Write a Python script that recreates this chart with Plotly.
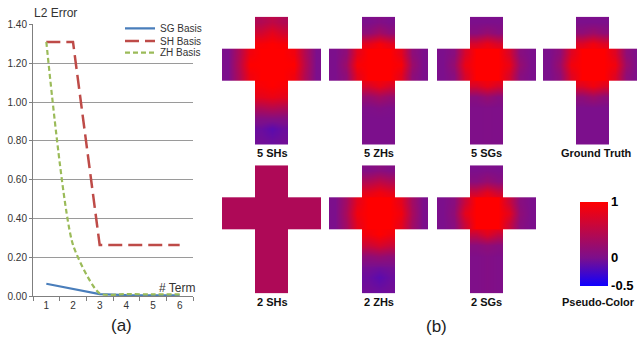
import plotly.graph_objects as go

# ---------------- data: line chart ----------------
terms = [1, 2, 3, 4, 5, 6]
sg_basis = [0.065, 0.038, 0.012, 0.006, 0.005, 0.005]
sh_basis = [1.31, 1.31, 0.265, 0.265, 0.265, 0.265]
zh_basis = [1.31, 0.265, 0.015, 0.012, 0.010, 0.010]
y_ticks = [0.0, 0.2, 0.4, 0.6, 0.8, 1.0, 1.2, 1.4]

# ---------------- data: cross pseudo-color maps (12 rows x 9 cols, None = outside cross) ----------------
_ = None
sh5 = [
    [_, _, _, 0.40, 0.50, 0.40, _, _, _],
    [_, _, _, 0.65, 0.80, 0.65, _, _, _],
    [_, _, _, 0.95, 1.00, 0.95, _, _, _],
    [0.00, 0.40, 0.90, 1.00, 1.00, 1.00, 0.90, 0.40, 0.00],
    [0.00, 0.45, 1.00, 1.00, 1.00, 1.00, 1.00, 0.45, 0.00],
    [0.00, 0.40, 0.90, 1.00, 1.00, 1.00, 0.90, 0.40, 0.00],
    [_, _, _, 0.95, 1.00, 0.95, _, _, _],
    [_, _, _, 0.80, 0.85, 0.80, _, _, _],
    [_, _, _, 0.40, 0.45, 0.40, _, _, _],
    [_, _, _, 0.05, 0.05, 0.05, _, _, _],
    [_, _, _, -0.08, -0.15, -0.08, _, _, _],
    [_, _, _, -0.05, -0.08, -0.05, _, _, _],
]
zh5 = [
    [_, _, _, 0.00, 0.05, 0.00, _, _, _],
    [_, _, _, 0.15, 0.30, 0.15, _, _, _],
    [_, _, _, 0.80, 0.95, 0.80, _, _, _],
    [0.00, 0.15, 0.80, 1.00, 1.00, 1.00, 0.80, 0.15, 0.00],
    [0.00, 0.25, 0.95, 1.00, 1.00, 1.00, 0.95, 0.25, 0.00],
    [0.00, 0.15, 0.80, 1.00, 1.00, 1.00, 0.80, 0.15, 0.00],
    [_, _, _, 0.70, 0.85, 0.70, _, _, _],
    [_, _, _, 0.20, 0.30, 0.20, _, _, _],
    [_, _, _, 0.02, 0.05, 0.02, _, _, _],
    [_, _, _, 0.00, 0.00, 0.00, _, _, _],
    [_, _, _, 0.00, 0.00, 0.00, _, _, _],
    [_, _, _, 0.00, 0.00, 0.00, _, _, _],
]
sg5 = [
    [_, _, _, 0.00, 0.00, 0.00, _, _, _],
    [_, _, _, 0.10, 0.20, 0.10, _, _, _],
    [_, _, _, 0.70, 0.85, 0.70, _, _, _],
    [0.00, 0.10, 0.70, 1.00, 1.00, 1.00, 0.70, 0.10, 0.00],
    [0.00, 0.20, 0.85, 1.00, 1.00, 1.00, 0.85, 0.20, 0.00],
    [0.00, 0.10, 0.70, 1.00, 1.00, 1.00, 0.70, 0.10, 0.00],
    [_, _, _, 0.70, 0.85, 0.70, _, _, _],
    [_, _, _, 0.10, 0.20, 0.10, _, _, _],
    [_, _, _, 0.02, 0.03, 0.02, _, _, _],
    [_, _, _, 0.02, 0.03, 0.02, _, _, _],
    [_, _, _, 0.02, 0.03, 0.02, _, _, _],
    [_, _, _, 0.02, 0.03, 0.02, _, _, _],
]
truth = [
    [_, _, _, 0.00, 0.00, 0.00, _, _, _],
    [_, _, _, 0.15, 0.25, 0.15, _, _, _],
    [_, _, _, 0.75, 0.90, 0.75, _, _, _],
    [0.00, 0.15, 0.75, 1.00, 1.00, 1.00, 0.75, 0.15, 0.00],
    [0.00, 0.25, 0.90, 1.00, 1.00, 1.00, 0.90, 0.25, 0.00],
    [0.00, 0.15, 0.75, 1.00, 1.00, 1.00, 0.75, 0.15, 0.00],
    [_, _, _, 0.75, 0.90, 0.75, _, _, _],
    [_, _, _, 0.15, 0.25, 0.15, _, _, _],
    [_, _, _, 0.00, 0.00, 0.00, _, _, _],
    [_, _, _, 0.00, 0.00, 0.00, _, _, _],
    [_, _, _, 0.00, 0.00, 0.00, _, _, _],
    [_, _, _, 0.00, 0.00, 0.00, _, _, _],
]
sh2 = [
    [_, _, _, 0.38, 0.38, 0.38, _, _, _],
    [_, _, _, 0.38, 0.38, 0.38, _, _, _],
    [_, _, _, 0.38, 0.38, 0.38, _, _, _],
    [0.38, 0.38, 0.38, 0.38, 0.38, 0.38, 0.38, 0.38, 0.38],
    [0.38, 0.38, 0.38, 0.38, 0.38, 0.38, 0.38, 0.38, 0.38],
    [0.38, 0.38, 0.38, 0.38, 0.38, 0.38, 0.38, 0.38, 0.38],
    [_, _, _, 0.38, 0.38, 0.38, _, _, _],
    [_, _, _, 0.38, 0.38, 0.38, _, _, _],
    [_, _, _, 0.38, 0.38, 0.38, _, _, _],
    [_, _, _, 0.38, 0.38, 0.38, _, _, _],
    [_, _, _, 0.38, 0.38, 0.38, _, _, _],
    [_, _, _, 0.38, 0.38, 0.38, _, _, _],
]
zh2 = [
    [_, _, _, 0.05, 0.10, 0.05, _, _, _],
    [_, _, _, 0.40, 0.50, 0.40, _, _, _],
    [_, _, _, 0.80, 0.90, 0.80, _, _, _],
    [0.00, 0.30, 0.80, 1.00, 1.00, 1.00, 0.80, 0.30, 0.00],
    [0.00, 0.35, 0.90, 1.00, 1.00, 1.00, 0.90, 0.35, 0.00],
    [0.00, 0.30, 0.80, 1.00, 1.00, 1.00, 0.80, 0.30, 0.00],
    [_, _, _, 0.90, 1.00, 0.90, _, _, _],
    [_, _, _, 0.60, 0.70, 0.60, _, _, _],
    [_, _, _, 0.15, 0.20, 0.15, _, _, _],
    [_, _, _, -0.03, -0.05, -0.03, _, _, _],
    [_, _, _, -0.08, -0.15, -0.08, _, _, _],
    [_, _, _, -0.05, -0.08, -0.05, _, _, _],
]
sg2 = [
    [_, _, _, 0.00, 0.02, 0.00, _, _, _],
    [_, _, _, 0.10, 0.20, 0.10, _, _, _],
    [_, _, _, 0.60, 0.80, 0.60, _, _, _],
    [0.00, 0.10, 0.60, 1.00, 1.00, 1.00, 0.60, 0.10, 0.00],
    [0.00, 0.15, 0.80, 1.00, 1.00, 1.00, 0.80, 0.15, 0.00],
    [0.00, 0.10, 0.60, 1.00, 1.00, 1.00, 0.60, 0.10, 0.00],
    [_, _, _, 0.55, 0.75, 0.55, _, _, _],
    [_, _, _, 0.10, 0.15, 0.10, _, _, _],
    [_, _, _, 0.02, 0.05, 0.02, _, _, _],
    [_, _, _, 0.02, 0.05, 0.02, _, _, _],
    [_, _, _, 0.02, 0.05, 0.02, _, _, _],
    [_, _, _, 0.02, 0.05, 0.02, _, _, _],
]
cross_maps = [sh5, zh5, sg5, truth, sh2, zh2, sg2]
cross_labels = ["5 SHs", "5 ZHs", "5 SGs", "Ground Truth", "2 SHs", "2 ZHs", "2 SGs"]
color_ticks = [-0.5, 0, 1]

# ---------------- layout geometry (pixels) ----------------
W, H = 637, 348
def px(x):
    return x / W
def py(y):
    return 1 - y / H

# (left, top) of each cross, cross is 99 x 132 px
cross_pos = [(222, 12), (329, 12), (437, 12), (543, 12),
             (222, 165), (329, 165), (437, 165)]
label_pos = [(272, 152), (379, 152), (486, 152), (596, 152),
             (272, 306), (379, 306), (486, 306)]

FONT = "Liberation Sans"
colorscale = [[0.0, "rgb(15,0,255)"], [1/3, "rgb(124,15,140)"], [1.0, "rgb(255,0,0)"]]

fig = go.Figure()

# line chart
line_specs = [
    ("SG Basis", sg_basis, dict(color="#4A7EBB", width=2.2), "linear", "legend"),
    ("SH Basis", sh_basis, dict(color="#BE4B48", width=2.5, dash="14px,6px"), "linear", "legend2"),
    ("ZH Basis", zh_basis, dict(color="#9BBB59", width=2.2, dash="5px,3px"), "spline", "legend3"),
]
for name, vals, ln, shape, lg in line_specs:
    ln = dict(ln)
    ln["shape"] = shape
    if shape == "spline":
        ln["smoothing"] = 0.6
    fig.add_trace(go.Scatter(x=terms, y=vals, name=name, mode="lines", line=ln,
                             xaxis="x", yaxis="y", legend=lg, hoverinfo="skip"))

# cross heat maps
for i, grid in enumerate(cross_maps):
    n = i + 2
    bar = [row[3:6] for row in grid]
    arm = grid[3:6]
    for z, xs, ys in ((bar, [3, 4, 5], list(range(12))), (arm, list(range(9)), [3, 4, 5])):
        fig.add_trace(go.Heatmap(z=z, x=xs, y=ys, coloraxis="coloraxis", zsmooth="best",
                                 xaxis=f"x{n}", yaxis=f"y{n}", hoverinfo="skip",
                                 showlegend=False))

layout = dict(
    width=W, height=H, margin=dict(l=0, r=0, t=0, b=0),
    paper_bgcolor="white", plot_bgcolor="white",
    font=dict(family=FONT, color="#222"),
    coloraxis=dict(
        colorscale=colorscale, cmin=-0.5, cmax=1,
        colorbar=dict(
            x=px(580), xanchor="left", xpad=0, y=py(246), yanchor="middle", ypad=0,
            len=84, lenmode="pixels", thickness=28, thicknessmode="pixels",
            outlinewidth=0, tickvals=color_ticks, ticktext=[str(v) for v in color_ticks],
            ticks="",
            tickfont=dict(family=FONT, size=13, color="black", weight="bold"),
        ),
    ),
    xaxis=dict(
        domain=[px(33), px(193)], range=[0.5, 6.5], anchor="y",
        tickvals=terms, ticktext=[str(t) for t in terms], ticks="",
        tickfont=dict(size=10, color="#333"),
        showgrid=False, zeroline=False, showline=True, linecolor="#7f7f7f", linewidth=1,
        minor=dict(tickvals=[0.5 + k for k in range(7)], ticks="outside", ticklen=4,
                   tickcolor="#7f7f7f", tickwidth=1, showgrid=False),
        fixedrange=True,
    ),
    yaxis=dict(
        domain=[py(300), py(20)], range=[0, 1.4], anchor="x",
        tickvals=y_ticks, tickformat=".2f", ticks="outside", ticklen=3, tickcolor="#7f7f7f",
        tickfont=dict(size=10, color="#333"),
        showgrid=True, gridcolor="#9a9a9a", gridwidth=1, zeroline=False,
        showline=True, linecolor="#7f7f7f", linewidth=1, fixedrange=True,
    ),
    showlegend=True,
)
for k, lg_y in zip(["legend", "legend2", "legend3"], [24, 37, 49]):
    layout[k] = dict(x=px(120), xanchor="left", y=py(lg_y), yanchor="middle",
                     bgcolor="rgba(0,0,0,0)", borderwidth=0, itemwidth=30,
                     font=dict(family=FONT, size=10, color="#333"), tracegroupgap=0)

for i, (l, t) in enumerate(cross_pos):
    n = i + 2
    right = min(l + 99, W)
    xr = [-0.5, -0.5 + (right - l) / 11]
    layout[f"xaxis{n}"] = dict(domain=[px(l), px(right)], range=xr, anchor=f"y{n}",
                               visible=False, fixedrange=True)
    layout[f"yaxis{n}"] = dict(domain=[py(t + 132), py(t)], range=[11.5, -0.5], anchor=f"x{n}",
                               visible=False, fixedrange=True)

fig.update_layout(**layout)

annos = []
for txt, (x, y) in zip(cross_labels, label_pos):
    annos.append(dict(text=txt, x=px(x), y=py(y), xref="paper", yref="paper",
                      showarrow=False, xanchor="center", yanchor="middle",
                      font=dict(family=FONT, size=11, color="#111", weight="bold")))
annos += [
    dict(text="Pseudo-Color", x=px(598), y=py(306), xref="paper", yref="paper", showarrow=False,
         xanchor="center", yanchor="middle",
         font=dict(family=FONT, size=11, color="#111", weight="bold")),
    dict(text="L2 Error", x=px(32), y=py(8), xref="paper", yref="paper", showarrow=False,
         xanchor="left", yanchor="middle", font=dict(family=FONT, size=12, color="#333")),
    dict(text="# Term", x=px(197), y=py(291), xref="paper", yref="paper", showarrow=False,
         xanchor="right", yanchor="middle", font=dict(family=FONT, size=12, color="#333")),
    dict(text="(a)", x=px(121), y=py(330), xref="paper", yref="paper", showarrow=False,
         xanchor="center", yanchor="middle", font=dict(family=FONT, size=17, color="#222")),
    dict(text="(b)", x=px(436), y=py(331), xref="paper", yref="paper", showarrow=False,
         xanchor="center", yanchor="middle", font=dict(family=FONT, size=17, color="#222")),
]
fig.update_layout(annotations=annos)

fig.write_html("out.html", config={"displayModeBar": False},
               post_script="document.body.style.margin='0px';document.body.style.overflow='hidden';")
